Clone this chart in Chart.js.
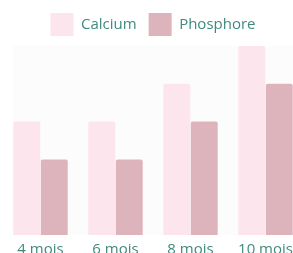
<!DOCTYPE html>
<html lang="fr">
<head>
<meta charset="UTF-8">
<title>Calcium et phosphore</title>
<script src="https://cdn.jsdelivr.net/npm/chart.js"></script>
<style>
    html, body { margin: 0; padding: 0; background: #fff; overflow: hidden; }
    .wrap { position: absolute; left: 3px; top: 0; width: 300px; height: 265px; }
</style>
</head>
<body>
<div class="wrap"><canvas id="chart"></canvas></div>
<script>
    // données
    const mois = ['4 mois', '6 mois', '8 mois', '10 mois'];
    const calcium = [3, 3, 4, 5];
    const phosphore = [2, 2, 3, 4];

    // fond très clair derrière les barres
    const fond = {
        id: 'fond',
        beforeDatasetsDraw(chart) {
            const a = chart.chartArea;
            const ctx = chart.ctx;
            ctx.save();
            ctx.fillStyle = '#fdfcfd';
            ctx.fillRect(a.left + 10, a.top, a.right - a.left - 10, a.bottom - a.top);
            ctx.restore();
        }
    };

    Chart.defaults.font.family = '"Open Sans", Lato, sans-serif';
    Chart.defaults.color = '#3f8a7f';

    new Chart(document.getElementById('chart'), {
        type: 'bar',
        data: {
            labels: mois,
            datasets: [{
                label: 'Calcium',
                data: calcium,
                backgroundColor: '#fde5ed',
                borderRadius: 2,
                borderSkipped: 'bottom'
            }, {
                label: 'Phosphore',
                data: phosphore,
                backgroundColor: '#ddb3bc',
                borderRadius: 2,
                borderSkipped: 'bottom'
            }]
        },
        options: {
            responsive: true,
            maintainAspectRatio: false,
            animation: false,
            categoryPercentage: 0.733,
            barPercentage: 0.98,
            layout: { padding: { top: 1, left: 0, right: 0, bottom: 0 } },
            plugins: {
                legend: {
                    position: 'top',
                    labels: {
                        boxWidth: 23,
                        boxHeight: 23,
                        padding: 12,
                        font: { size: 15 },
                        color: '#3f8a7f'
                    }
                },
                tooltip: { enabled: false }
            },
            scales: {
                x: {
                    grid: { display: false, drawTicks: false },
                    border: { display: false },
                    ticks: { font: { size: 15 }, color: '#3f8a7f', padding: 6 }
                },
                y: {
                    display: false,
                    min: 0,
                    max: 5
                }
            }
        },
        plugins: [fond]
    });
</script>
</body>
</html>
